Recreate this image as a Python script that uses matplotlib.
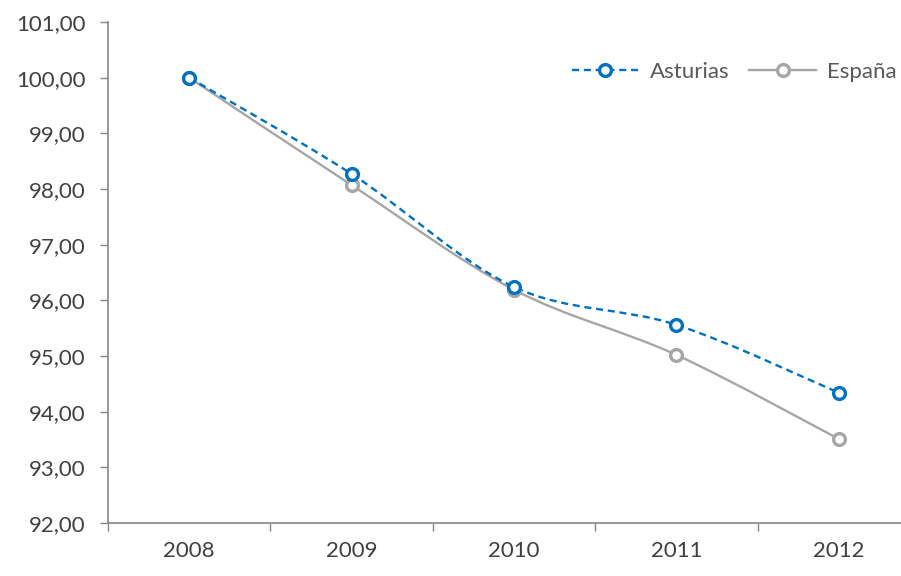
import numpy as np
import matplotlib
matplotlib.use("Agg")
import matplotlib.pyplot as plt
from matplotlib.path import Path
from matplotlib.patches import PathPatch
from matplotlib.lines import Line2D

years = ["2008", "2009", "2010", "2011", "2012"]
asturias = [100.00, 98.27, 96.24, 95.56, 94.34]
espana = [100.00, 98.07, 96.19, 95.02, 93.51]

plt.rcParams['font.family'] = ['Lato', 'DejaVu Sans']
FS = 16

fig = plt.figure(figsize=(9.01, 5.76), dpi=100)
ax = fig.add_axes([108/901, 53/576, 812/901, 501/576])

def smooth_path(x, y):
    x = np.asarray(x, float); y = np.asarray(y, float)
    verts = [(x[0], y[0])]
    codes = [Path.MOVETO]
    n = len(x)
    for i in range(n - 1):
        x0, y0 = (x[i-1], y[i-1]) if i > 0 else (x[i], y[i])
        x3, y3 = (x[i+2], y[i+2]) if i + 2 < n else (x[i+1], y[i+1])
        c1 = (x[i] + (x[i+1] - x0) / 6, y[i] + (y[i+1] - y0) / 6)
        c2 = (x[i+1] - (x3 - x[i]) / 6, y[i+1] - (y3 - y[i]) / 6)
        verts += [c1, c2, (x[i+1], y[i+1])]
        codes += [Path.CURVE4] * 3
    return Path(verts, codes)

xs = np.arange(len(years))
blue = "#0070C0"
gray = "#A6A6A6"

ax.add_patch(PathPatch(smooth_path(xs, espana), fill=False, edgecolor=gray, lw=1.7, zorder=2))
ax.add_patch(PathPatch(smooth_path(xs, asturias), fill=False, edgecolor=blue, lw=1.7,
                       linestyle=(0, (3, 2)), zorder=3))
ax.plot(xs, espana, linestyle="none", marker="o", ms=8.5, mfc="white", mec=gray, mew=2.4, zorder=4)
ax.plot(xs, asturias, linestyle="none", marker="o", ms=8.5, mfc="white", mec=blue, mew=2.4, zorder=5)

ax.set_xlim(-0.5, len(years) - 0.5)
ax.set_ylim(92, 101)
ax.set_yticks(np.arange(92, 102, 1))
ax.set_yticklabels([f"{v:.2f}".replace(".", ",") for v in np.arange(92, 102, 1)])
ax.set_xticks(xs)
ax.set_xticklabels(years)
ax.set_xticks(np.arange(-0.5, len(years), 1), minor=True)
ax.tick_params(axis="x", which="major", length=0, pad=13, labelsize=FS, colors="#404040")
ax.tick_params(axis="x", which="minor", length=6, width=1, color="#868686", direction="out")
ax.tick_params(axis="y", length=6, width=1, color="#868686", direction="out", pad=10,
               labelsize=FS, labelcolor="#404040")
for s in ["top", "right"]:
    ax.spines[s].set_visible(False)
for s in ["left", "bottom"]:
    ax.spines[s].set_color("#868686")
    ax.spines[s].set_linewidth(1.2)

handles = [
    Line2D([], [], color=blue, lw=1.7, linestyle=(0, (3, 2)), marker="o", ms=8.5, mfc="white", mec=blue, mew=2.4),
    Line2D([], [], color=gray, lw=1.7, marker="o", ms=8.5, mfc="white", mec=gray, mew=2.4),
]
leg = fig.legend(handles, ["Asturias", "España"], loc="center left",
                 bbox_to_anchor=(572/901, 1 - 72/576), frameon=False, ncol=2,
                 handlelength=3.0, columnspacing=0.9, handletextpad=0.5, fontsize=FS,
                 borderaxespad=0, borderpad=0)
for t in leg.get_texts():
    t.set_color("#595959")

fig.savefig("out.png", dpi=100, facecolor="white")
